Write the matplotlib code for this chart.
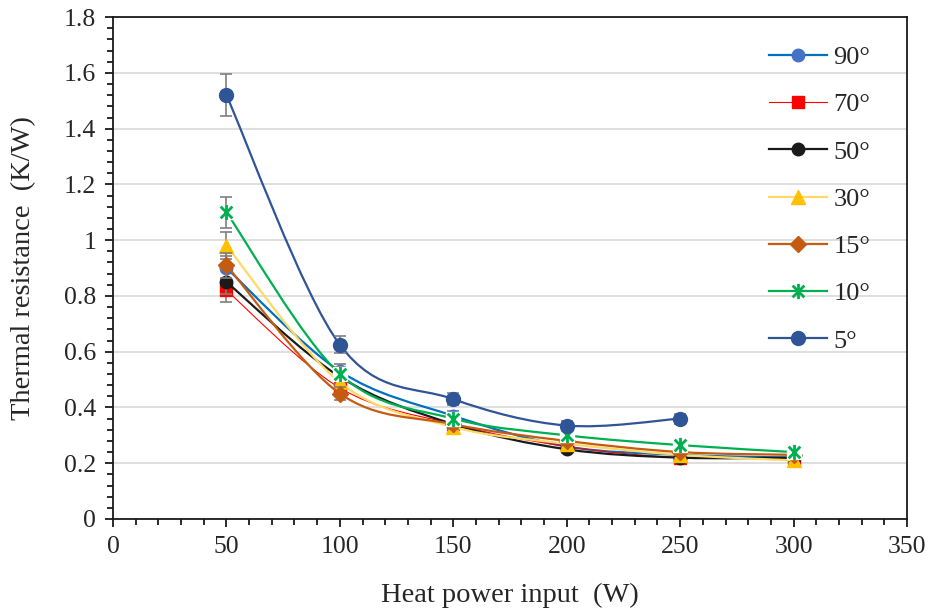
import numpy as np
import matplotlib
matplotlib.use('Agg')
import matplotlib.pyplot as plt
from matplotlib.path import Path
from matplotlib.patches import PathPatch
from matplotlib.lines import Line2D
from matplotlib.ticker import MultipleLocator

plt.rcParams['font.family'] = ['Liberation Serif', 'DejaVu Serif']

# data
power = [50, 100, 150, 200, 250, 300]
labels = ['90°', '70°', '50°', '30°', '15°', '10°', '5°']
r90 = [0.90, 0.53, 0.37, 0.26, 0.23, 0.22]
r70 = [0.82, 0.47, 0.34, 0.26, 0.22, 0.22]
r50 = [0.85, 0.51, 0.34, 0.25, 0.22, 0.22]
r30 = [0.98, 0.49, 0.33, 0.27, 0.23, 0.21]
r15 = [0.91, 0.45, 0.34, 0.28, 0.24, 0.23]
r10 = [1.10, 0.52, 0.36, 0.30, 0.265, 0.24]
r5 = [1.52, 0.625, 0.43, 0.335, 0.36]
err_pct = 0.05

series = [r90, r70, r50, r30, r15, r10, r5]

# star marker like excel (x with a vertical bar)
star = Path([(-1, -1), (1, 1), (-1, 1), (1, -1), (0, -1.3), (0, 1.3)],
            [Path.MOVETO, Path.LINETO, Path.MOVETO, Path.LINETO, Path.MOVETO, Path.LINETO])

styles = [
    dict(lc='#0070C0', mc='#4472C4', m='o', ms=9, lw=1.6),
    dict(lc='#FF0000', mc='#FF0000', m='s', ms=8.5, lw=0.8),
    dict(lc='#1A1A1A', mc='#1A1A1A', m='o', ms=9, lw=1.6),
    dict(lc='#FFD966', mc='#FFC000', m='^', ms=9.5, lw=1.6),
    dict(lc='#C55A11', mc='#C55A11', m='D', ms=8, lw=1.6),
    dict(lc='#00B050', mc='#00B050', m=star, ms=11, lw=1.6),
    dict(lc='#2F5597', mc='#2F5597', m='o', ms=10, lw=1.6),
]


def smooth_path(xs, ys):
    # excel style smoothed line (bezier through the points)
    pts = np.column_stack([xs, ys]).astype(float)
    n = len(pts)
    verts = [pts[0]]
    codes = [Path.MOVETO]
    for i in range(n - 1):
        p0 = pts[max(i - 1, 0)]
        p1 = pts[i]
        p2 = pts[i + 1]
        p3 = pts[min(i + 2, n - 1)]
        verts += [p1 + (p2 - p0) / 6, p2 - (p3 - p1) / 6, p2]
        codes += [Path.CURVE4] * 3
    return Path(verts, codes)


fig = plt.figure(figsize=(9.32, 6.12), dpi=100)
ax = fig.add_axes([0.1212, 0.152, 0.852, 0.820])

handles = []
for k, (ys, st) in enumerate(zip(series, styles)):
    xs = power[:len(ys)]
    z = 2 + k * 0.1
    ax.add_patch(PathPatch(smooth_path(xs, ys), fill=False, edgecolor=st['lc'],
                           lw=st['lw'], zorder=z))
    ax.errorbar(xs, ys, yerr=[v * err_pct for v in ys], fmt='none', ecolor='#7F7F7F',
                elinewidth=1.2, capsize=4.5, capthick=1.2, zorder=z + 0.02)
    if st['m'] is star:
        ax.plot(xs, ys, ls='none', marker='s', ms=st['ms'] * 0.9, mfc='white', mec='white', zorder=z + 0.03)
        ax.plot(xs, ys, ls='none', marker=star, ms=st['ms'], mfc='none', mec=st['mc'],
                mew=2.0, zorder=z + 0.05)
        h = Line2D([], [], color=st['lc'], lw=st['lw'], marker=star, ms=st['ms'],
                   mfc='none', mec=st['mc'], mew=2.0)
    else:
        ax.plot(xs, ys, ls='none', marker=st['m'], ms=st['ms'], mfc=st['mc'], mec=st['mc'],
                zorder=z + 0.05)
        h = Line2D([], [], color=st['lc'], lw=st['lw'], marker=st['m'], ms=st['ms'],
                   mfc=st['mc'], mec=st['mc'])
    handles.append(h)

ax.set_xlim(0, 350)
ax.set_ylim(0, 1.8)
ax.xaxis.set_major_locator(MultipleLocator(50))
ax.xaxis.set_minor_locator(MultipleLocator(10))
ax.yaxis.set_major_locator(MultipleLocator(0.2))
ax.yaxis.set_minor_locator(MultipleLocator(0.04))
ax.yaxis.set_major_formatter(plt.FuncFormatter(lambda v, p: f"{v:g}"))

ax.grid(axis='y', which='major', color='#D9D9D9', lw=1.2, zorder=0)
ax.set_axisbelow(True)
for s in ax.spines.values():
    s.set_color('#1A1A1A')
    s.set_linewidth(1.3)

ax.tick_params(which='major', direction='out', length=6, width=1.3, labelsize=18.5,
               pad=6, color='#1A1A1A', labelcolor='#262626')
ax.tick_params(which='minor', direction='out', length=4, width=1.3, color='#1A1A1A')

ax.set_xlabel('Heat power input  (W)', fontsize=20.5, color='#262626', labelpad=18)
ax.set_ylabel('Thermal resistance  (K/W)', fontsize=20.5, color='#262626', labelpad=20)

ax.legend(handles, labels, loc='upper left', bbox_to_anchor=(0.826, 0.943), frameon=False,
          fontsize=19, handlelength=2.2, handletextpad=0.25, labelspacing=0.9,
          borderpad=0, borderaxespad=0, labelcolor='#262626')

fig.savefig('out.png', dpi=100)
